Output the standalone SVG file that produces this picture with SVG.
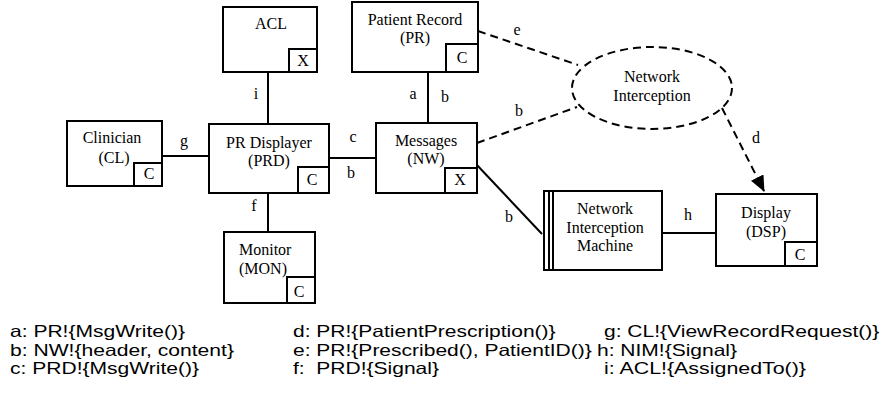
<svg xmlns="http://www.w3.org/2000/svg" width="883" height="396" viewBox="0 0 883 396">
<defs>
<style>
.box{fill:#fff;stroke:#000;stroke-width:2}
.t{font-family:"Liberation Serif","Times New Roman",serif;font-size:16px;fill:#000;text-anchor:middle}
.ts{font-family:"Liberation Serif","Times New Roman",serif;font-size:16px;fill:#000}
.ln{fill:none;stroke:#000;stroke-width:2}
.dl{fill:none;stroke:#000;stroke-width:2;stroke-dasharray:8,5}
.lg{font-family:"Liberation Sans",Arial,sans-serif;font-size:16.5px;fill:#000}
</style>
<marker id="arr" markerWidth="16" markerHeight="14" refX="15" refY="7" orient="auto" markerUnits="userSpaceOnUse">
<path d="M0,0 L16,7 L0,14 Z" fill="#000"/>
</marker>
</defs>
<rect width="883" height="396" fill="#fff"/>

<g id="connectors">
<line class="ln" x1="268" y1="72" x2="268" y2="124"/>
<text class="t" x="256" y="99">i</text>
<line class="ln" x1="428" y1="72" x2="428" y2="123"/>
<text class="t" x="413" y="99">a</text>
<text class="t" x="445" y="102">b</text>
<line class="ln" x1="329" y1="158" x2="376" y2="158"/>
<text class="t" x="353" y="142">c</text>
<text class="t" x="351" y="178">b</text>
<line class="ln" x1="162" y1="156" x2="209" y2="156"/>
<text class="t" x="184" y="146">g</text>
<line class="ln" x1="268" y1="193" x2="268" y2="232"/>
<text class="t" x="254" y="211">f</text>
<line class="ln" x1="476" y1="164" x2="542" y2="234"/>
<text class="t" x="509" y="222">b</text>
<line class="ln" x1="662" y1="233" x2="716" y2="233"/>
<text class="t" x="688" y="220">h</text>
<line class="dl" x1="478" y1="31" x2="578" y2="65"/>
<text class="t" x="517" y="35">e</text>
<line class="dl" x1="477" y1="143" x2="577" y2="107"/>
<text class="t" x="519" y="116">b</text>
<line class="dl" x1="722" y1="108" x2="764" y2="191" marker-end="url(#arr)"/>
<text class="t" x="756" y="143">d</text>
</g>

<g id="acl">
<rect class="box" x="223" y="7" width="94" height="65"/>
<text class="t" x="271" y="29">ACL</text>
<rect class="box" x="289" y="49" width="28" height="23"/>
<text class="t" x="303" y="66">X</text>
</g>

<g id="pr">
<rect class="box" x="352" y="2" width="126" height="70"/>
<text class="t" x="415" y="25">Patient Record</text>
<text class="t" x="415" y="43">(PR)</text>
<rect class="box" x="446" y="44" width="32" height="28"/>
<text class="t" x="462" y="63">C</text>
</g>

<g id="prd">
<rect class="box" x="209" y="124" width="120" height="69"/>
<text class="t" x="269" y="148">PR Displayer</text>
<text class="t" x="269" y="166">(PRD)</text>
<rect class="box" x="298" y="167" width="31" height="26"/>
<text class="t" x="312" y="185">C</text>
</g>

<g id="nw">
<rect class="box" x="376" y="123" width="101" height="70"/>
<text class="t" x="426" y="146">Messages</text>
<text class="t" x="426" y="164">(NW)</text>
<rect class="box" x="445" y="168" width="32" height="25"/>
<text class="t" x="460" y="185">X</text>
</g>

<g id="cl">
<rect class="box" x="67" y="121" width="95" height="65"/>
<text class="t" x="112" y="143">Clinician</text>
<text class="t" x="114" y="163">(CL)</text>
<rect class="box" x="134" y="163" width="28" height="23"/>
<text class="t" x="149" y="179">C</text>
</g>

<g id="mon">
<rect class="box" x="224" y="232" width="91" height="71"/>
<text class="ts" x="239" y="255">Monitor</text>
<text class="ts" x="239" y="274">(MON)</text>
<rect class="box" x="287" y="277" width="28" height="26"/>
<text class="t" x="299" y="297">C</text>
</g>

<g id="nim">
<rect class="box" x="544" y="191" width="118" height="79"/>
<line class="ln" x1="549" y1="191" x2="549" y2="270"/>
<line class="ln" x1="553" y1="191" x2="553" y2="270"/>
<text class="t" x="605" y="214">Network</text>
<text class="t" x="605" y="233">Interception</text>
<text class="t" x="605" y="251">Machine</text>
</g>

<g id="dsp">
<rect class="box" x="716" y="194" width="101" height="72"/>
<text class="t" x="766" y="218">Display</text>
<text class="t" x="766" y="237">(DSP)</text>
<rect class="box" x="785" y="242" width="32" height="24"/>
<text class="t" x="800" y="260">C</text>
</g>

<g id="ni">
<ellipse class="dl" cx="652" cy="88" rx="80" ry="41"/>
<text class="t" x="652" y="82">Network</text>
<text class="t" x="652" y="101">Interception</text>
</g>

<g id="legend">
<text class="lg" x="10" y="337" textLength="175" lengthAdjust="spacingAndGlyphs">a: PR!{MsgWrite()}</text>
<text class="lg" x="10" y="355.5" textLength="224" lengthAdjust="spacingAndGlyphs">b: NW!{header, content}</text>
<text class="lg" x="10" y="374" textLength="189" lengthAdjust="spacingAndGlyphs">c: PRD!{MsgWrite()}</text>
<text class="lg" x="293" y="337" textLength="262.6" lengthAdjust="spacingAndGlyphs">d: PR!{PatientPrescription()}</text>
<text class="lg" x="293" y="355.5" textLength="298.8" lengthAdjust="spacingAndGlyphs">e: PR!{Prescribed(), PatientID()}</text>
<text class="lg" x="293" y="374" textLength="146" lengthAdjust="spacingAndGlyphs" xml:space="preserve">f:  PRD!{Signal}</text>
<text class="lg" x="604" y="337" textLength="275.4" lengthAdjust="spacingAndGlyphs">g: CL!{ViewRecordRequest()}</text>
<text class="lg" x="597" y="355.5" textLength="140" lengthAdjust="spacingAndGlyphs">h: NIM!{Signal}</text>
<text class="lg" x="604" y="374" textLength="202" lengthAdjust="spacingAndGlyphs">i: ACL!{AssignedTo()}</text>
</g>
</svg>
